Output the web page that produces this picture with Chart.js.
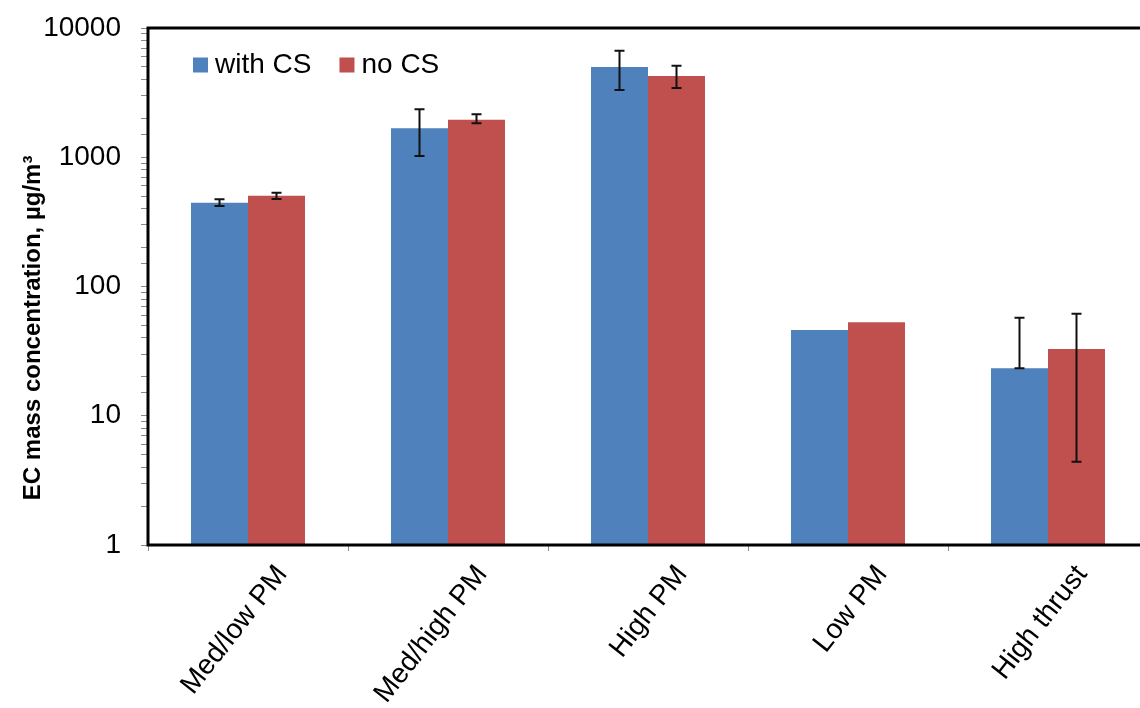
<!DOCTYPE html>
<html>
<head>
<meta charset="utf-8">
<script src="https://cdn.jsdelivr.net/npm/chart.js@4.4.1/dist/chart.umd.min.js"></script>
<style>
  html, body { margin: 0; padding: 0; background: #fff; overflow: hidden; }
  #wrap { width: 1160px; height: 708px; position: relative; }
</style>
</head>
<body>
<div id="wrap"><canvas id="chart"></canvas></div>
<script>
// values (log axis)
const categories = ['Med/low PM', 'Med/high PM', 'High PM', 'Low PM', 'High thrust'];
const withCS     = [445, 1675, 4990, 46, 23.3];
const noCS       = [504, 1953, 4253, 53, 32.8];
// error bar bounds (null = no bar)
const withCSLow  = [420, 1022, 3313, null, 23.3];
const withCSHigh = [473, 2355, 6670, null, 57.4];
const noCSLow    = [475, 1832, 3434, null, 4.4];
const noCSHigh   = [532, 2150, 5110, null, 61.6];
const yTicks     = [1, 10, 100, 1000, 10000];
const yTitle     = 'EC mass concentration, µg/m³';

const FONT = '"Liberation Sans", Arial, sans-serif';
Chart.defaults.font.family = FONT;
Chart.defaults.color = '#000';

// whiskers, drawn through the y scale
const errorBars = {
  id: 'errorBars',
  afterDatasetsDraw(chart) {
    const ctx = chart.ctx;
    const yScale = chart.scales.y;
    chart.data.datasets.forEach((ds, di) => {
      const meta = chart.getDatasetMeta(di);
      meta.data.forEach((bar, i) => {
        const lo = ds.errLow[i], hi = ds.errHigh[i];
        if (lo == null || hi == null) return;
        const yLo = yScale.getPixelForValue(lo);
        const yHi = yScale.getPixelForValue(hi);
        ctx.save();
        ctx.strokeStyle = '#111';
        ctx.lineWidth = 2;
        ctx.beginPath();
        ctx.moveTo(bar.x, yHi); ctx.lineTo(bar.x, yLo);
        ctx.moveTo(bar.x - 5, yHi); ctx.lineTo(bar.x + 5, yHi);
        ctx.moveTo(bar.x - 5, yLo); ctx.lineTo(bar.x + 5, yLo);
        ctx.stroke();
        ctx.restore();
      });
    });
  }
};

// black box round the plot area, legend inside it, y title off-centre like the original
const decorations = {
  id: 'decorations',
  afterDraw(chart) {
    const { ctx, chartArea: a } = chart;
    ctx.save();
    ctx.strokeStyle = '#000';
    ctx.lineWidth = 3;
    ctx.strokeRect(a.left, a.top, a.right - a.left, a.bottom - a.top);

    // legend
    ctx.font = '28px ' + FONT;
    ctx.textBaseline = 'middle';
    ctx.textAlign = 'left';
    let x = a.left + 45;
    const yMid = a.top + 37;
    chart.data.datasets.forEach((ds) => {
      ctx.fillStyle = ds.backgroundColor;
      ctx.fillRect(x, yMid - 7.5, 15, 15);
      ctx.fillStyle = '#000';
      ctx.fillText(ds.label, x + 22, yMid);
      x += 22 + ctx.measureText(ds.label).width + 28;
    });

    // y axis title
    ctx.translate(33, a.top + (a.bottom - a.top) * 0.58);
    ctx.rotate(-Math.PI / 2);
    ctx.font = 'bold 24px ' + FONT;
    ctx.textAlign = 'center';
    ctx.fillText(yTitle, 0, 0);
    ctx.restore();
  }
};

const ctx = document.getElementById('chart').getContext('2d');
new Chart(ctx, {
  type: 'bar',
  data: {
    labels: categories,
    datasets: [
      { label: 'with CS', data: withCS, backgroundColor: '#4F81BD', errLow: withCSLow, errHigh: withCSHigh },
      { label: 'no CS', data: noCS, backgroundColor: '#C0504D', errLow: noCSLow, errHigh: noCSHigh }
    ]
  },
  options: {
    responsive: true,
    maintainAspectRatio: false,
    animation: false,
    categoryPercentage: 0.57,
    barPercentage: 1.0,
    layout: { padding: { left: 17, right: 12, top: 28, bottom: 0 } },
    plugins: {
      tooltip: { enabled: false },
      legend: { display: false }
    },
    scales: {
      x: {
        border: { display: false },
        grid: { offset: true, drawOnChartArea: false, tickLength: 6, color: '#888' },
        ticks: { maxRotation: 52, minRotation: 52, labelOffset: 34, padding: 8, color: '#000', font: { size: 28 } },
        afterFit(s) { s.height = 163; }
      },
      y: {
        type: 'logarithmic',
        min: 1,
        max: 10000,
        border: { display: false },
        grid: { drawOnChartArea: false, tickLength: 7, color: '#888' },
        ticks: {
          autoSkip: false,
          padding: 20,
          color: '#000',
          font: { size: 28 },
          callback: (v) => yTicks.includes(v) ? String(v) : ''
        },
        afterFit(s) {
          s.width = 131;
          s.paddingTop = 0;
        }
      }
    }
  },
  plugins: [errorBars, decorations]
});
</script>
</body>
</html>
